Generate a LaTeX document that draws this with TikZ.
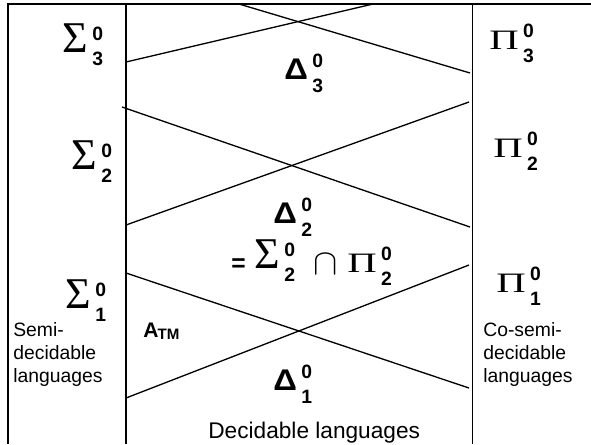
\documentclass[tikz,border=0pt]{standalone}
\usepackage{graphicx}
\usepackage{fontspec}
\setmainfont{Liberation Sans}
\newfontfamily\grkfont{Liberation Serif}
\usetikzlibrary{positioning}

% pieces of the level labels
\newcommand{\digs}[1]{{\fontsize{11}{11}\selectfont\bfseries #1}}
\newcommand{\lvl}[3]{#1\kern2.5pt\rlap{\raisebox{6.8pt}{\digs{#2}}}\raisebox{-7.8pt}{\digs{#3}}}
\newcommand{\Sig}{{\fontsize{25}{25}\selectfont\grkfont Σ}}
\newcommand{\Pic}{\scalebox{1.45}[1]{\fontsize{16}{16}\selectfont\grkfont Π}}
\newcommand{\Del}{\scalebox{1.1}[1]{\fontsize{17}{17}\selectfont\bfseries Δ}}

\tikzset{
  lvlnode/.style={anchor=base west, inner sep=0pt},
  sidetext/.style={anchor=north west, inner sep=0pt, align=left, font=\fontsize{11}{13}\selectfont},
  border/.style={line width=1.1pt},
  cut/.style={line width=0.75pt}
}

\begin{document}
\begin{tikzpicture}[x=0.02cm, y=-0.02cm]
  \useasboundingbox (0,0) rectangle (591,444);

  % frame and columns
  \coordinate (tl) at (8,4);
  \coordinate (tr) at (591,4);
  \coordinate (bl) at (8,444);
  \draw[border] (bl) -- (tl) -- (tr);
  \draw[cut] (126,4) -- (126,444);
  \draw[cut] (472.5,4) -- (472.5,444);

  % crossing lines
  \coordinate (a1) at (239,4);    \coordinate (a2) at (470,73);
  \coordinate (b1) at (126,62);   \coordinate (b2) at (373,4);
  \coordinate (c1) at (122,107);  \coordinate (c2) at (470,227);
  \coordinate (d1) at (469,102);  \coordinate (d2) at (126,225);
  \coordinate (e1) at (126,273);  \coordinate (e2) at (469,388);
  \coordinate (f1) at (126,398);  \coordinate (f2) at (469,265);
  \draw[cut] (a1) -- (a2);
  \draw[cut] (b1) -- (b2);
  \draw[cut] (c1) -- (c2);
  \draw[cut] (d1) -- (d2);
  \draw[cut] (e1) -- (e2);
  \draw[cut] (f1) -- (f2);

  % Sigma column
  \node[lvlnode] (sig3) at (62,52) {\lvl{\Sig}{0}{3}};
  \node[lvlnode] (sig2) at (71,169) {\lvl{\Sig}{0}{2}};
  \node[lvlnode] (sig1) at (65,308) {\lvl{\Sig}{0}{1}};
  \node[sidetext] (semi) at (13,322) {Semi-\\decidable\\languages};

  % Pi column
  \node[lvlnode] (pi3) at (489,49) {\lvl{\Pic}{0}{3}};
  \node[lvlnode] (pi2) at (493,157) {\lvl{\Pic}{0}{2}};
  \node[lvlnode] (pi1) at (496,292) {\lvl{\Pic}{0}{1}};
  \node[sidetext] (cosemi) at (483,322) {Co-semi-\\decidable\\languages};

  % middle
  \node[lvlnode] (del3) at (284,79) {\lvl{\Del}{0}{3}};
  \node[lvlnode] (del2) at (273,223) {\lvl{\Del}{0}{2}};
  \node[lvlnode] (eq) at (231,271) {\fontsize{14}{14}\selectfont\bfseries =};
  \node[lvlnode] (sigb) at (254,268) {\lvl{\Sig}{0}{2}};
  \node[lvlnode] (capn) at (313,274) {\fontsize{21}{21}\selectfont$\cap$};
  \node[lvlnode] (pib) at (347,272) {\lvl{\Pic}{0}{2}};
  \node[lvlnode] (atm) at (143,337) {\fontsize{12}{12}\selectfont\bfseries A\kern-0.5pt\raisebox{-1.2pt}{\fontsize{8.6}{8.6}\selectfont TM}};
  \node[lvlnode] (del1) at (273,390) {\lvl{\Del}{0}{1}};
  \node[lvlnode, font=\fontsize{12.9}{15}\selectfont] (dec) at (208,438) {Decidable languages};
\end{tikzpicture}
\end{document}
